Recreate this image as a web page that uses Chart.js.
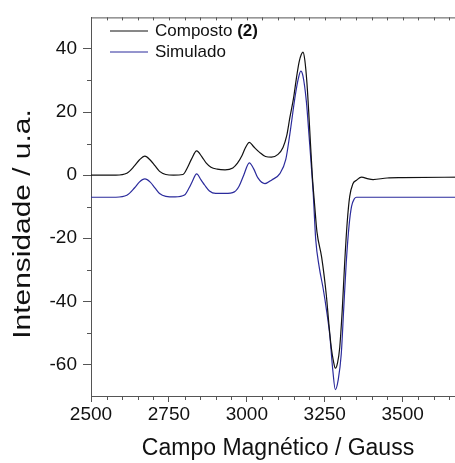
<!DOCTYPE html>
<html>
<head>
<meta charset="utf-8">
<script src="https://cdn.jsdelivr.net/npm/chart.js@4.4.1/dist/chart.umd.min.js"></script>
<style>
html, body { margin: 0; padding: 0; background: #fff; overflow: hidden; }
canvas { display: block; }
</style>
</head>
<body>
<canvas id="epr" width="470" height="463"></canvas>
<script>
// Espectro EPR
const campoComposto = [2500, 2580, 2615, 2640, 2655, 2673, 2690, 2705, 2720, 2740, 2765, 2795, 2810, 2822, 2839, 2856, 2870, 2885, 2905, 2930, 2955, 2970, 2985, 2995, 3008, 3022, 3040, 3060, 3079, 3100, 3116, 3128, 3138, 3150, 3159, 3168, 3175, 3180, 3186, 3193, 3202, 3210, 3218, 3225, 3240, 3255, 3264, 3271, 3278, 3284, 3291, 3298, 3306, 3314, 3322, 3330, 3340, 3352, 3368, 3390, 3405, 3450, 3500, 3700];
const intensidadeComposto = [0, 0, 0.6, 3, 4.8, 6, 4.8, 3, 1.2, 0.2, 0, 0.2, 2.5, 5, 7.7, 5.8, 3.8, 2.5, 1.9, 1.7, 2.3, 3.8, 6.3, 8.6, 10.4, 9, 7.3, 5.9, 5.7, 6.6, 8.8, 12.5, 18.2, 24.5, 30.7, 36, 38.3, 39, 36.5, 29, 14, 0, -10, -18, -26, -38, -48, -54.7, -59, -61.2, -59.5, -54.7, -43, -27.7, -15, -6.8, -2.8, -1.6, -0.6, -1.2, -1.4, -0.9, -0.8, -0.6];

const campoSimulado = [2500, 2580, 2615, 2640, 2655, 2673, 2690, 2705, 2720, 2740, 2770, 2800, 2815, 2825, 2839, 2853, 2865, 2880, 2900, 2930, 2960, 2975, 2990, 3008, 3022, 3035, 3058, 3080, 3106, 3125, 3138, 3155, 3165, 3173, 3180, 3191, 3200, 3213, 3221, 3232, 3245, 3256, 3266, 3276, 3284, 3293, 3303, 3311, 3319, 3328, 3336, 3345, 3352, 3700];
const intensidadeSimulado = [-7, -7, -6.4, -4, -2.2, -1.2, -2.2, -4, -5.8, -6.7, -6.9, -6.3, -4, -2, 0.4, -1.5, -3.2, -5, -5.8, -5.8, -5.3, -3.5, 0, 3.9, 2, -0.8, -2.7, -1.5, 0.5, 5, 13, 25, 30.5, 33, 31.5, 23.4, 12, -5.8, -20.4, -29, -36, -43, -50.6, -62, -68, -65, -56.7, -42, -27.7, -16, -9.9, -7.5, -7, -7];

const ticksX = [2500, 2750, 3000, 3250, 3500];
const ticksY = [-60, -40, -20, 0, 20, 40];

const corComposto = '#111111';
const corSimulado = '#2b2b9c';
const corEixo = '#555555';
const fonte = '"Liberation Sans", Arial, sans-serif';

// ticks menores, borda superior, legenda e titulo do eixo y
const extras = {
    id: 'extras',
    afterDraw(chart) {
        const ctx = chart.ctx;
        const a = chart.chartArea;
        const x = chart.scales.x;
        const y = chart.scales.y;
        ctx.save();
        ctx.strokeStyle = corEixo;
        ctx.lineWidth = 1;
        ctx.beginPath();
        ctx.moveTo(a.left, a.top + 0.5);
        ctx.lineTo(a.right, a.top + 0.5);
        for (let g = 2550; g < 3700; g += 50) {
            const px = Math.round(x.getPixelForValue(g)) + 0.5;
            if (g % 250 !== 0) {
                ctx.moveTo(px, a.bottom);
                ctx.lineTo(px, a.bottom + 4);
            }
            ctx.moveTo(px, a.top);
            ctx.lineTo(px, a.top + 3);
        }
        for (let v = -50; v < 50; v += 20) {
            const py = Math.round(y.getPixelForValue(v)) + 0.5;
            ctx.moveTo(a.left - 4, py);
            ctx.lineTo(a.left, py);
        }
        ctx.stroke();

        // legenda
        const linhas = [
            { cor: corComposto, texto: 'Composto ', negrito: '(2)', y: 31 },
            { cor: corSimulado, texto: 'Simulado', negrito: '', y: 52 }
        ];
        ctx.textBaseline = 'middle';
        ctx.fillStyle = '#111';
        linhas.forEach(l => {
            ctx.strokeStyle = l.cor;
            ctx.beginPath();
            ctx.moveTo(110, l.y);
            ctx.lineTo(148, l.y);
            ctx.stroke();
            ctx.font = '17px ' + fonte;
            ctx.fillText(l.texto, 155, l.y);
            if (l.negrito) {
                const w = ctx.measureText(l.texto).width;
                ctx.font = 'bold 17px ' + fonte;
                ctx.fillText(l.negrito, 155 + w, l.y);
            }
        });

        // titulo eixo y (esticado como no original)
        ctx.translate(24, 224);
        ctx.rotate(-Math.PI / 2);
        ctx.scale(1.3, 1);
        ctx.textAlign = 'center';
        ctx.font = '23px ' + fonte;
        ctx.fillText('Intensidade / u.a.', 0, 0);
        ctx.restore();
    }
};

const ctx = document.getElementById('epr').getContext('2d');
const myChart = new Chart(ctx, {
    type: 'line',
    data: {
        datasets: [{
            label: 'Composto (2)',
            data: campoComposto.map((g, i) => ({ x: g, y: intensidadeComposto[i] })),
            borderColor: corComposto,
            borderWidth: 1.2,
            pointRadius: 0,
            cubicInterpolationMode: 'monotone'
        }, {
            label: 'Simulado',
            data: campoSimulado.map((g, i) => ({ x: g, y: intensidadeSimulado[i] })),
            borderColor: corSimulado,
            borderWidth: 1.2,
            pointRadius: 0,
            cubicInterpolationMode: 'monotone'
        }]
    },
    options: {
        responsive: false,
        animation: false,
        layout: {
            padding: { top: 11, right: 5, left: 0, bottom: 0 }
        },
        plugins: {
            legend: { display: false },
            tooltip: { enabled: false }
        },
        scales: {
            x: {
                type: 'linear',
                min: 2500,
                max: 3700,
                afterBuildTicks: s => { s.ticks = ticksX.map(v => ({ value: v })); },
                afterFit: s => { s.height = 67; },
                ticks: {
                    color: '#111',
                    padding: 1,
                    maxRotation: 0,
                    font: { family: fonte, size: 19 },
                    callback: v => String(v)
                },
                grid: { drawOnChartArea: false, color: corEixo, tickLength: 6 },
                border: { color: corEixo, width: 1 },
                title: {
                    display: true,
                    text: 'Campo Magnético / Gauss',
                    color: '#111',
                    font: { family: fonte, size: 23 },
                    padding: { top: 0, bottom: 1 }
                }
            },
            y: {
                min: -70,
                max: 50,
                afterBuildTicks: s => { s.ticks = ticksY.map(v => ({ value: v })); },
                afterFit: s => { s.width = 91; },
                ticks: {
                    color: '#111',
                    padding: 6,
                    font: { family: fonte, size: 19 },
                    callback: v => String(v)
                },
                grid: { drawOnChartArea: false, color: corEixo, tickLength: 8 },
                border: { color: corEixo, width: 1 }
            }
        }
    },
    plugins: [extras]
});
</script>
</body>
</html>
